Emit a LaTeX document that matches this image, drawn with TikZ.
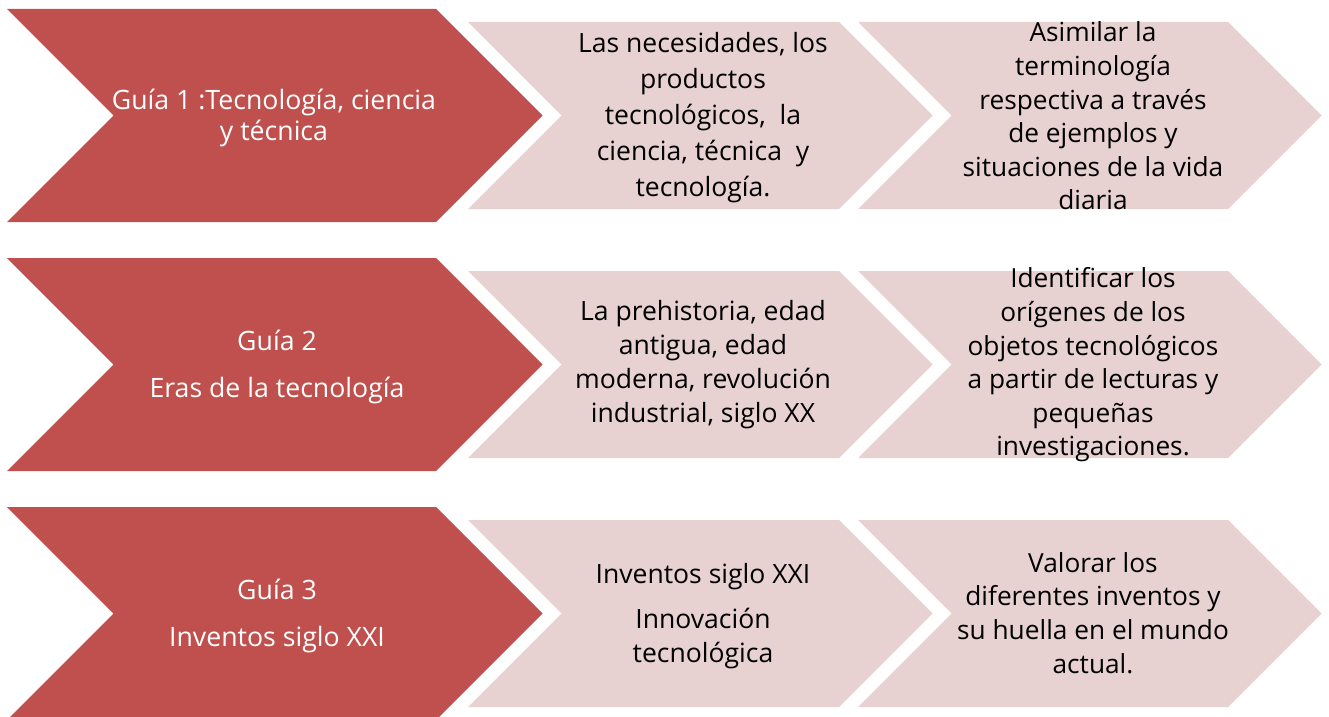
\documentclass[tikz,border=0pt]{standalone}
\usepackage{fontspec}
\setmainfont{Open Sans}
\definecolor{chevred}{HTML}{C0504D}
\definecolor{chevlight}{HTML}{E8D1D1}
\newcommand\chevpath[5]{% #1 colour, #2 left x, #3 top y, #4 right-corner x, #5 height
  \fill[#1] (#2,#3) -- (#4,#3) -- ({#4+#5/2},{#3+#5/2}) -- (#4,{#3+#5}) -- (#2,{#3+#5}) -- ({#2+#5/2},{#3+#5/2}) -- cycle;}
\tikzset{
  redtxt/.style={text=white, align=center, inner sep=0pt, font=\fontsize{20}{23.25}\selectfont},
  midtxt/.style={text=black, align=center, inner sep=0pt, font=\fontsize{19.9}{27}\selectfont},
  righttxt/.style={text=black, align=center, inner sep=0pt, font=\fontsize{19.7}{25.2}\selectfont},
}
\begin{document}
\begin{tikzpicture}[x=0.75pt,y=-0.75pt]
\useasboundingbox (0,0) rectangle (1329,717);
\clip (0,0) rectangle (1329,717);
\foreach \dy in {0,249,498}{
  \chevpath{chevred}{7}{9+\dy}{436}{213}
  \chevpath{chevlight}{468}{22+\dy}{839}{187}
  \chevpath{chevlight}{858}{22+\dy}{1228}{187}
}
% row 1
\node[redtxt] (r1a) at (274,118) {Guía 1 :Tecnología, ciencia\\y técnica};
\node[midtxt] (r1b) at (703,118) {Las necesidades, los\\productos\\tecnológicos,\ \ la\\ciencia, técnica\ \ y\\tecnología.};
\node[righttxt] (r1c) at (1093,116) {Asimilar la\\terminología\\respectiva a través\\de ejemplos y\\situaciones de la vida\\diaria};
% row 2
\node[redtxt] (r2a) at (277,367) {Guía 2\\[12pt]Eras de la tecnología};
\node[midtxt,font=\fontsize{19.9}{25.5}\selectfont] (r2b) at (703,365) {La prehistoria, edad\\antigua, edad\\moderna, revolución\\industrial, siglo XX};
\node[righttxt] (r2c) at (1093,365) {Identificar los\\orígenes de los\\objetos tecnológicos\\a partir de lecturas y\\pequeñas\\investigaciones.};
% row 3
\node[redtxt] (r3a) at (277,616) {Guía 3\\[12pt]Inventos siglo XXI};
\node[midtxt,font=\fontsize{19.9}{25.5}\selectfont] (r3b) at (703,616) {Inventos siglo XXI\\[8pt]Innovación\\tecnológica};
\node[righttxt] (r3c) at (1093,613) {Valorar los\\diferentes inventos y\\su huella en el mundo\\actual.};
\end{tikzpicture}
\end{document}
